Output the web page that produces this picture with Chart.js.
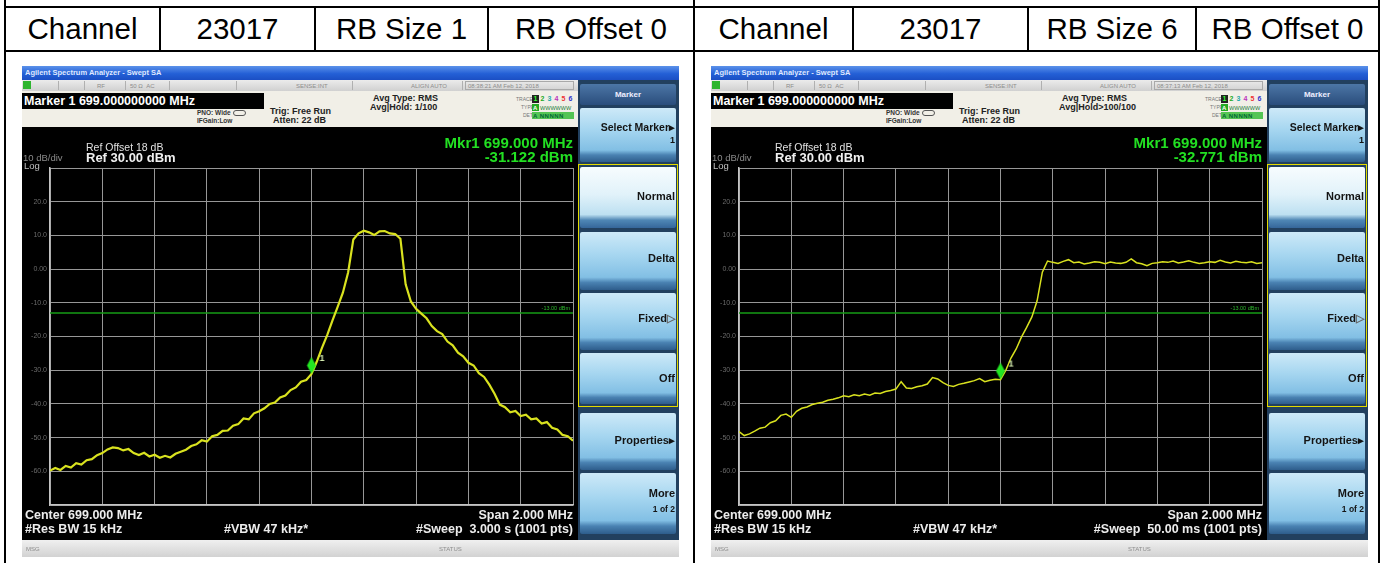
<!DOCTYPE html>
<html lang="en">
<head>
<meta charset="UTF-8">
<title>Channel 23017 - RB Size 1 / RB Size 6</title>
<script src="https://cdn.jsdelivr.net/npm/chart.js"></script>
<style>
  html, body { margin:0; padding:0; }
  body { width:1388px; height:563px; position:relative; overflow:hidden; background:#fff;
         font-family:"Liberation Sans", Arial, sans-serif; }
  .a { position:absolute; white-space:nowrap; }
  .sk { position:absolute; width:96px; border-radius:2px;
        background:linear-gradient(#cde9f8 0%, #a6d6f0 40%, #82bfe4 78%, #4a82b2 87%, #2e5d8c 100%); }
  .sk.on { background:linear-gradient(#f7fcfe 0%, #e1f2fa 45%, #bde0f1 78%, #4f87b5 87%, #35669a 100%); }
</style>
</head>
<body>
<script>
// ---- chart data ----
const headerLeft  = ['Channel', '23017', 'RB Size 1', 'RB Offset 0'];
const headerRight = ['Channel', '23017', 'RB Size 6', 'RB Offset 0'];

const centerMHz = 699.0;
const spanMHz = 2.0;
const gridMHz = [698.0, 698.2, 698.4, 698.6, 698.8, 699.0, 699.2, 699.4, 699.6, 699.8, 700.0];
const gridDbm = [30, 20, 10, 0, -10, -20, -30, -40, -50, -60, -70];
const gridDbmText = ['', '20.0', '10.0', '0.00', '-10.0', '-20.0', '-30.0', '-40.0', '-50.0', '-60.0', ''];
const displayLineDbm = -13;

// trace level (dBm) read every 20 kHz, 698.00 ... 700.00 MHz
const traceRb1 = [
  -59.8, -59.0, -59.6, -58.4, -58.9, -57.6, -58.0, -56.7, -56.4, -55.2,
  -54.6, -53.5, -52.9, -53.1, -53.8, -53.4, -54.6, -55.2, -54.5, -55.6,
  -55.1, -56.0, -55.4, -55.9, -54.8, -54.2, -53.6, -52.5, -52.0, -50.8,
  -51.2, -49.6, -49.2, -48.0, -47.9, -46.5, -46.0, -44.3, -44.6, -42.8,
  -42.2, -41.3, -40.0, -39.6, -38.1, -37.5, -35.9, -35.1, -33.4, -32.9,
  -31.1, -27.5, -23.4, -19.6, -15.3, -11.2, -7.0, -1.0, 8.8, 10.6,
  11.4, 10.9, 10.1, 11.2, 11.3, 10.6, 10.4, 9.0, -4.5, -9.6,
  -11.8, -13.2, -14.6, -16.9, -18.4, -19.3, -21.5, -22.6, -24.8, -25.9,
  -27.8, -28.6, -30.9, -32.0, -34.3, -37.0, -40.2, -41.0, -42.5, -42.1,
  -43.6, -43.2, -44.6, -44.3, -45.8, -45.4, -47.1, -47.6, -49.2, -49.6,
  -50.9
];
const traceRb6 = [
  -48.2, -49.4, -48.9, -48.1, -47.2, -46.9, -45.6, -45.0, -43.4, -43.0,
  -44.0, -42.2, -41.3, -40.9, -40.2, -39.8, -39.5, -38.9, -38.6, -38.2,
  -37.6, -37.9, -37.3, -37.6, -37.1, -37.4, -36.8, -36.9, -36.3, -36.0,
  -35.6, -33.4, -35.3, -35.4, -34.9, -34.6, -34.1, -32.2, -32.6, -33.7,
  -34.5, -34.8, -34.2, -33.9, -33.5, -33.1, -32.5, -33.4, -33.0, -32.7,
  -32.8, -30.1, -26.4, -23.7, -20.2, -17.3, -14.2, -9.4, -0.9, 2.4,
  2.0, 1.7, 2.3, 2.8, 1.9, 2.1, 1.5, 1.8, 2.2, 2.0,
  1.6, 2.1, 1.8, 1.7, 2.0, 3.0, 1.9, 1.6, 1.0, 1.7,
  1.9, 2.2, 2.0, 2.4, 1.8, 2.1, 2.5, 2.0, 1.7, 1.9,
  2.2, 2.0, 2.6, 2.1, 1.8, 2.3, 2.0, 1.9, 2.2, 1.7,
  1.9
];
const markerMHz = [699.0, 699.0];
const markerDbm = [-31.122, -32.771];
const sweepTimes = ['08:38:21 AM Feb 12, 2018', '08:37:13 AM Feb 12, 2018'];
const avgHold = ['Avg|Hold: 1/100', 'Avg|Hold&gt;100/100'];
const sweepText = ['#Sweep&nbsp; 3.000 s (1001 pts)', '#Sweep&nbsp; 50.00 ms (1001 pts)'];

// ---- layout ----
const F = '"Liberation Sans", Arial, sans-serif';

function box(x, y, w, h, css) {
  const d = document.createElement('div');
  d.className = 'a';
  d.style.cssText = 'left:' + x + 'px;top:' + y + 'px;width:' + w + 'px;height:' + h + 'px;' + (css || '');
  document.body.appendChild(d);
  return d;
}
// y is the centre of the text line
function put(x, y, html, css, align) {
  const d = document.createElement('div');
  d.className = 'a';
  d.innerHTML = html;
  let s = 'top:' + (y - 10) + 'px;height:20px;line-height:20px;font-family:' + F + ';' + css;
  if (align === 'right') s += 'left:' + (x - 400) + 'px;width:400px;text-align:right;';
  else if (align === 'center') s += 'left:' + (x - 200) + 'px;width:400px;text-align:center;';
  else s += 'left:' + x + 'px;';
  d.style.cssText = s;
  document.body.appendChild(d);
  return d;
}

// table rules
box(4, 6, 1376, 2, 'background:#000');
box(4, 50, 1376, 2, 'background:#000');
[4, 693, 1378].forEach(x => box(x, 0, 2, 563, 'background:#000'));
[159, 314, 487, 852, 1027, 1195].forEach(x => box(x, 6, 2, 46, 'background:#000'));
const cellEdges = [5, 160, 315, 488, 694, 853, 1028, 1196, 1379];
headerLeft.concat(headerRight).forEach((t, i) => {
  put((cellEdges[i] + cellEdges[i + 1]) / 2, 29, t, 'font-size:29.5px;color:#000;', 'center');
});

function markerSprite() {
  const c = document.createElement('canvas');
  c.width = 32; c.height = 44;
  const g = c.getContext('2d');
  g.fillStyle = '#22e622';
  g.beginPath();
  g.moveTo(16, 5); g.lineTo(20.5, 13.5); g.lineTo(16, 22); g.lineTo(11.5, 13.5);
  g.closePath(); g.fill();
  g.fillStyle = '#d6eeb0';
  g.font = 'bold 9px "Liberation Sans"';
  g.fillText('1', 24, 9);
  return c;
}

const dlLabel = {
  id: 'dlLabel',
  afterDatasetsDraw(chart) {
    const { ctx, chartArea, scales } = chart;
    const y = scales.y.getPixelForValue(displayLineDbm);
    ctx.save();
    ctx.font = '5.5px "Liberation Sans"';
    ctx.fillStyle = '#2db52d';
    ctx.textAlign = 'right';
    ctx.fillText('-13.00 dBm', chartArea.right - 3, y - 3);
    ctx.restore();
  }
};

function drawScope(X, k, levels, lineW) {
  const cv = document.createElement('canvas');
  cv.width = 556; cv.height = 413;
  cv.style.cssText = 'position:absolute;left:' + X + 'px;top:127px;';
  document.body.appendChild(cv);

  const n = levels.length;
  const trace = levels.map((v, i) => ({ x: centerMHz - spanMHz / 2 + i * spanMHz / (n - 1), y: v }));
  const dline = [{ x: gridMHz[0], y: displayLineDbm }, { x: gridMHz[gridMHz.length - 1], y: displayLineDbm }];

  new Chart(cv.getContext('2d'), {
    type: 'line',
    data: {
      datasets: [
        { data: [{ x: markerMHz[k], y: markerDbm[k] }], type: 'scatter', pointStyle: markerSprite(),
          pointRadius: 4, order: 0 },
        { data: trace, borderColor: '#d9e21f', borderWidth: lineW, pointRadius: 0, tension: 0, order: 1 },
        { data: dline, borderColor: '#169c16', borderWidth: 1.5, pointRadius: 0, order: 2 }
      ]
    },
    options: {
      responsive: false,
      animation: false,
      devicePixelRatio: 1,
      layout: { padding: { left: 0, right: 4, top: 41, bottom: 35 } },
      plugins: { legend: { display: false }, tooltip: { enabled: false } },
      scales: {
        x: {
          type: 'linear', min: gridMHz[0], max: gridMHz[gridMHz.length - 1],
          afterBuildTicks: s => { s.ticks = gridMHz.map(v => ({ value: v })); },
          ticks: { display: false },
          grid: { color: '#979797', lineWidth: 1, drawTicks: false },
          border: { color: '#c4c4c4', width: 1.5 }
        },
        y: {
          min: gridDbm[gridDbm.length - 1], max: gridDbm[0],
          afterBuildTicks: s => { s.ticks = gridDbm.map(v => ({ value: v })); },
          afterFit: s => { s.width = 28; },
          ticks: {
            callback: v => gridDbmText[gridDbm.indexOf(v)],
            color: '#6a6a6a', font: { size: 7, family: F }, padding: 3
          },
          grid: { color: '#979797', lineWidth: 1, drawTicks: false },
          border: { color: '#c4c4c4', width: 1.5 }
        }
      }
    },
    plugins: [dlLabel]
  });
}

function softkey(X, top, h, lines, on) {
  const b = box(X + 558, top, 96, h);
  b.className = 'sk' + (on ? ' on' : '');
  lines.forEach(l => {
    put(X + 653, top + l[0], l[1], 'font-weight:bold;font-size:' + (l[2] || 11) + 'px;color:#141414;', 'right');
  });
}

function buildScreen(X, k) {
  // title bar
  box(X, 66, 657, 14, 'background:linear-gradient(#5b92ea,#2460d6 55%,#1b4fc4);');
  put(X + 3, 73, 'Agilent Spectrum Analyzer - Swept SA', 'font-size:7.5px;font-weight:bold;color:#dfe8ff;');

  // status strip
  box(X, 80, 556, 11, 'background:linear-gradient(#ececec,#d0d0d0);');
  box(X + 1, 81, 8, 8, 'background:#2fb52f;');
  [36, 62, 103, 147, 214, 330, 440].forEach(x => box(X + x, 81, 1, 9, 'background:#b0b0b0'));
  box(X + 443, 81, 109, 9, 'border:1px solid #a9a9a9;box-sizing:border-box;');
  const st = 'font-size:6px;color:#8c8c8c;';
  put(X + 75, 85.5, 'RF', st);
  put(X + 108, 85.5, '50 &Omega;&nbsp; AC', st);
  put(X + 274, 85.5, 'SENSE:INT', st);
  put(X + 389, 85.5, 'ALIGN AUTO', st);
  put(X + 446, 85.5, sweepTimes[k], st);

  // info panel
  box(X, 91, 556, 36, 'background:#f1efe7;');
  box(X, 93, 242, 16, 'background:#000;');
  put(X + 2, 101, 'Marker 1 699.000000000 MHz', 'font-size:12.5px;font-weight:bold;color:#fff;');
  const sm = 'font-size:6.5px;font-weight:bold;color:#333;';
  put(X + 175, 113, 'PNO: Wide', sm);
  put(X + 175, 121, 'IFGain:Low', sm);
  box(X + 211, 110, 13, 6, 'border:1px solid #555;border-radius:3px;box-sizing:border-box;');
  const md = 'font-size:9px;font-weight:bold;color:#222;';
  put(X + 248, 111, 'Trig: Free Run', md);
  put(X + 251, 120, 'Atten: 22 dB', md);
  put(X + 351, 98, 'Avg Type: RMS', md);
  put(X + 348, 107, avgHold[k], md);
  const tn = 'font-size:5px;color:#777;';
  put(X + 494, 99, 'TRACE', tn);
  put(X + 499, 107, 'TYPE', tn);
  put(X + 501, 115, 'DET', tn);
  box(X + 510, 95, 7, 8, 'background:#222;');
  const dig = ['#3f3', '#2a2', '#2aa', '#b3b', '#e33', '#33c'];
  dig.forEach((c, i) => put(X + 511.5 + i * 7, 99, String(i + 1), 'font-size:7px;font-weight:bold;color:' + c + ';'));
  box(X + 510, 104, 7, 7, 'background:#2a2;');
  put(X + 511, 107.5, 'A', 'font-size:6px;font-weight:bold;color:#fff;');
  put(X + 518, 107.5, 'WWWWWW', 'font-size:5.5px;color:#1a7a3a;');
  box(X + 510, 112, 42, 7, 'background:#54c454;');
  put(X + 511, 115.5, 'A NNNNN', 'font-size:6px;font-weight:bold;color:#063;letter-spacing:0.5px;');

  // display area
  box(X, 127, 556, 413, 'background:#000;');
  drawScope(X, k, k === 0 ? traceRb1 : traceRb6, k === 0 ? 2.2 : 1.5);
  put(X + 64, 147, 'Ref Offset 18 dB', 'font-size:10.5px;color:#e0e0e0;');
  put(X + 1, 158, '10 dB/div', 'font-size:9.5px;color:#8a8a8a;');
  put(X + 64, 158, 'Ref 30.00 dBm', 'font-size:13px;font-weight:bold;color:#f0f0f0;');
  put(X + 2, 166, 'Log', 'font-size:9.5px;color:#c0c0c0;');
  const mk = 'font-size:15px;font-weight:bold;color:#22e022;';
  put(X + 551, 143, 'Mkr1 699.000 MHz', mk, 'right');
  put(X + 551, 157, markerDbm[k].toFixed(3) + ' dBm', mk, 'right');
  const bt = 'font-size:12.5px;font-weight:bold;color:#ececec;';
  put(X + 3, 515, 'Center 699.000 MHz', bt);
  put(X + 3, 529, '#Res BW 15 kHz', bt);
  put(X + 202, 529, '#VBW 47 kHz*', bt);
  put(X + 551, 515, 'Span 2.000 MHz', bt, 'right');
  put(X + 551, 529, sweepText[k], bt, 'right');

  // softkey column
  box(X + 556, 80, 101, 460, 'background:#22405f;');
  box(X + 558, 84, 96, 21, 'background:linear-gradient(#4c76a6,#2a4d7c);border-radius:2px;');
  put(X + 606, 95, 'Marker', 'font-size:8px;font-weight:bold;color:#eef;', 'center');
  softkey(X, 108, 54, [[19, 'Select Marker&#9656;', 10.5], [32, '1', 9]]);
  softkey(X, 167, 61, [[29, 'Normal']], true);
  softkey(X, 232, 58, [[26, 'Delta']]);
  softkey(X, 293, 57, [[25, 'Fixed<span style="color:#666">&#9655;</span>']]);
  softkey(X, 353, 51, [[25, 'Off']]);
  softkey(X, 413, 57, [[27, 'Properties&#9656;']]);
  softkey(X, 473, 61, [[20, 'More'], [36, '1 of 2', 8.5]]);
  box(X + 556, 164, 100, 243, 'border:1.5px solid #e2da00;box-sizing:border-box;');

  // message bar
  box(X, 540, 657, 17, 'background:linear-gradient(#f0f0f0,#d2d2d2);');
  put(X + 4, 548.5, 'MSG', 'font-size:6px;color:#8c8c8c;');
  put(X + 417, 548.5, 'STATUS', 'font-size:6px;color:#8c8c8c;');
}

buildScreen(22, 0);
buildScreen(711, 1);
</script>
</body>
</html>
